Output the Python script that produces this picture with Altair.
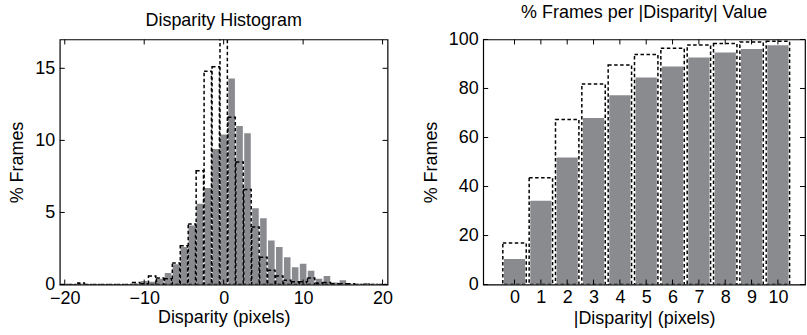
import altair as alt
import pandas as pd

# ---- data ----
disparity = list(range(-20, 21))
fixed_pct = [0, 0, 0.05, 0, 0, 0, 0, 0, 0, 0.05,
             0.25, 0.2, 0.4, 0.8, 1.4, 2.6, 4.1, 5.6, 6.7, 9.4,
             10.4, 14.3, 11.0, 10.5, 5.3, 4.6, 3.05, 2.6, 1.9, 1.2,
             1.45, 0.95, 0.4, 0.6, 0.15, 0.3, 0.05, 0.05, 0.1, 0.05, 0]
adapt_pct = [0, 0, 0.1, 0, 0, 0, 0, 0, 0, 0.15,
             0.05, 0.6, 0.45, 0.4, 1.5, 2.7, 4.2, 7.9, 14.8, 15.1,
             17.3, 11.6, 8.5, 6.6, 4.0, 1.9, 1.0, 0.6, 0.3, 0.2,
             0.2, 0.45, 0.1, 0.15, 0.05, 0.05, 0.05, 0, 0, 0, 0]

abs_disp = list(range(0, 11))
fixed_cum = [10.4, 34.2, 51.8, 68.0, 77.2, 84.5, 89.0, 92.6, 94.7, 96.1, 97.6]
adapt_cum = [17.0, 43.6, 67.3, 81.8, 89.6, 93.9, 96.4, 97.7, 98.4, 99.0, 99.3]

left_xticks = [-20, -10, 0, 10, 20]
left_yticks = [0, 5, 10, 15]
right_xticks = list(range(0, 11))
right_yticks = [0, 20, 40, 60, 80, 100]

GRAY = "#8a8b8f"
FONT = "Liberation Sans"
TICK = 5
FS = 18

hist = pd.DataFrame({"d": disparity, "fixed": fixed_pct, "adapt": adapt_pct})
cum = pd.DataFrame({"d": abs_disp, "fixed": fixed_cum, "adapt": adapt_cum})


def panel(df, W, H, xdom, ydom, xticks, yticks, gsize, dsize, xtitle, ttl,
          xlabpad, xtitlepad):
    xs = alt.Scale(domain=xdom, nice=False, zero=False)
    ys = alt.Scale(domain=ydom, nice=False)
    common = dict(ticks=False, domain=False, grid=False, labelFont=FONT, titleFont=FONT,
                  labelFontSize=FS, titleFontSize=FS, labelColor="black",
                  titleColor="black", titleFontWeight="normal")
    xax = alt.Axis(values=xticks, labelPadding=xlabpad, titlePadding=xtitlepad,
                   format="d", labelFlush=False, **common)
    yax = alt.Axis(values=yticks, labelPadding=5, titlePadding=8, **common)
    base = alt.Chart(df)
    gray = base.mark_bar(color=GRAY, size=gsize, clip=True).encode(
        x=alt.X("d:Q", scale=xs, title=xtitle, axis=xax),
        y=alt.Y("fixed:Q", scale=ys, title="% Frames", axis=yax),
    )
    dashed = base.mark_bar(fillOpacity=0, stroke="black", strokeDash=[3.5, 2.5],
                           strokeWidth=1.5, size=dsize, clip=True).encode(
        x=alt.X("d:Q", scale=xs, title=xtitle, axis=xax),
        y=alt.Y("adapt:Q", scale=ys, title="% Frames", axis=yax),
    )
    xt = pd.DataFrame({"t": xticks})
    yt = pd.DataFrame({"t": yticks})
    tb = alt.Chart(xt).mark_rule(color="black").encode(
        x=alt.X("t:Q", scale=xs, title=xtitle, axis=xax),
        y=alt.value(H), y2=alt.value(H - TICK))
    tt = alt.Chart(xt).mark_rule(color="black").encode(
        x=alt.X("t:Q", scale=xs, title=xtitle, axis=xax),
        y=alt.value(0), y2=alt.value(TICK))
    tl = alt.Chart(yt).mark_rule(color="black").encode(
        y=alt.Y("t:Q", scale=ys, title="% Frames", axis=yax),
        x=alt.value(0), x2=alt.value(TICK))
    tr = alt.Chart(yt).mark_rule(color="black").encode(
        y=alt.Y("t:Q", scale=ys, title="% Frames", axis=yax),
        x=alt.value(W), x2=alt.value(W - TICK))
    return alt.layer(gray, dashed, tb, tt, tl, tr).properties(
        width=W, height=H,
        title=alt.TitleParams(ttl, fontSize=18, font=FONT, fontWeight="normal",
                              anchor="middle", offset=9, color="black"),
    )


left = panel(hist, 329, 246, [-20, 20], [0, 17], left_xticks, left_yticks,
             6.6, 7.4, "Disparity (pixels)", "Disparity Histogram", 5, 1)
right = panel(cum, 323, 246, [-1, 10.84], [0, 100], right_xticks, right_yticks,
              21.3, 23.5, "|Disparity| (pixels)", "% Frames per |Disparity| Value", 4, 3)

chart = alt.hconcat(left, right, spacing=28).properties(
    padding={"left": 8, "top": 2, "right": 0, "bottom": 0},
    background="white",
).configure_view(stroke="black", strokeWidth=1.2)

chart.save("out.html", embed_options={"renderer": "svg", "actions": False})
